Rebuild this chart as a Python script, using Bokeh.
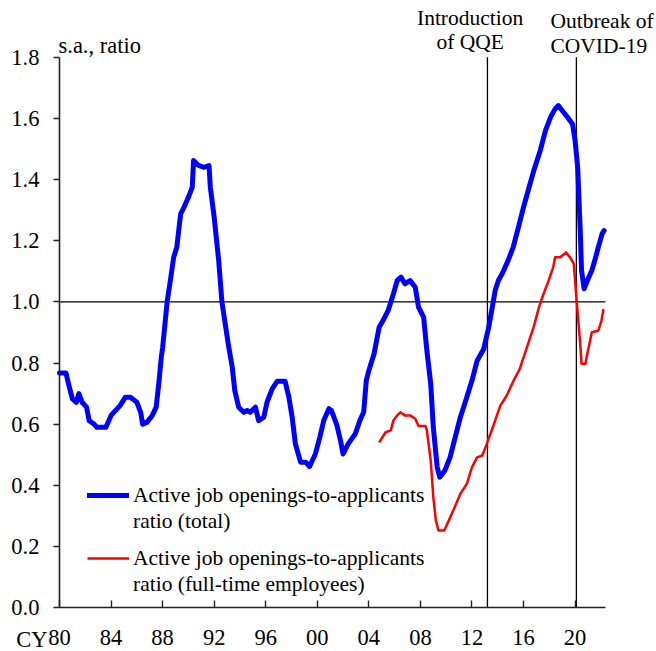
from bokeh.plotting import figure
from bokeh.models import Label, Legend, LegendItem, FixedTicker, NumeralTickFormatter
from bokeh.embed import file_html
from bokeh.resources import INLINE

FONT = "Liberation Serif"

# ---------------- data ----------------
x_ticks = [1980, 1984, 1988, 1992, 1996, 2000, 2004, 2008, 2012, 2016, 2020]
x_tick_labels = ["80", "84", "88", "92", "96", "00", "04", "08", "12", "16", "20"]
y_ticks = [0.0, 0.2, 0.4, 0.6, 0.8, 1.0, 1.2, 1.4, 1.6, 1.8]

total_years = [
    1980.0, 1980.5, 1980.7, 1981.0, 1981.3, 1981.5, 1981.75, 1982.1, 1982.3, 1982.7,
    1982.9, 1983.6, 1984.0, 1984.3, 1984.7, 1985.1, 1985.5, 1986.0, 1986.3, 1986.45,
    1986.8, 1987.2, 1987.5, 1987.7, 1987.9, 1988.0, 1988.35, 1988.6, 1988.86, 1989.1,
    1989.4, 1989.6, 1990.0, 1990.3, 1990.4, 1990.8, 1991.2, 1991.6, 1991.7, 1992.0,
    1992.35, 1992.6, 1993.1, 1993.4, 1993.6, 1993.9, 1994.3, 1994.55, 1994.8, 1995.2,
    1995.45, 1995.85, 1996.1, 1996.5, 1996.9, 1997.5, 1997.8, 1998.05, 1998.3, 1998.7,
    1999.1, 1999.4, 1999.85, 2000.2, 2000.5, 2000.9, 2001.1, 2001.5, 2001.8, 2002.0,
    2002.4, 2002.95, 2003.3, 2003.6, 2003.8, 2004.0, 2004.4, 2004.8, 2005.1, 2005.5,
    2005.9, 2006.2, 2006.5, 2006.8, 2007.2, 2007.6, 2007.85, 2008.25, 2008.5, 2008.8,
    2009.0, 2009.3, 2009.5, 2009.9, 2010.3, 2010.7, 2011.1, 2011.6, 2012.0, 2012.4,
    2012.9, 2013.3, 2013.8, 2014.05, 2014.4, 2014.8, 2015.2, 2015.6, 2016.0, 2016.4,
    2016.8, 2017.3, 2017.7, 2018.1, 2018.45, 2018.7, 2019.1, 2019.5, 2019.8, 2020.0,
    2020.2, 2020.4, 2020.5, 2020.7, 2020.95, 2021.3, 2021.6, 2021.8, 2022.1, 2022.25,
]
total_ratio = [
    0.768, 0.768, 0.732, 0.683, 0.672, 0.700, 0.672, 0.656, 0.612, 0.600,
    0.590, 0.590, 0.629, 0.643, 0.661, 0.688, 0.688, 0.672, 0.639, 0.600,
    0.607, 0.629, 0.656, 0.732, 0.820, 0.850, 1.000, 1.070, 1.146, 1.179,
    1.288, 1.304, 1.342, 1.375, 1.462, 1.446, 1.440, 1.446, 1.375, 1.277,
    1.135, 1.000, 0.860, 0.787, 0.710, 0.656, 0.639, 0.645, 0.639, 0.656,
    0.612, 0.623, 0.672, 0.716, 0.741, 0.741, 0.688, 0.623, 0.536, 0.476,
    0.476, 0.462, 0.503, 0.558, 0.612, 0.651, 0.645, 0.600, 0.547, 0.503,
    0.536, 0.569, 0.612, 0.640, 0.743, 0.776, 0.830, 0.917, 0.939, 0.972,
    1.026, 1.070, 1.081, 1.059, 1.070, 1.048, 0.983, 0.950, 0.841, 0.732,
    0.590, 0.460, 0.427, 0.449, 0.492, 0.558, 0.623, 0.688, 0.743, 0.808,
    0.845, 0.917, 1.037, 1.070, 1.097, 1.135, 1.179, 1.244, 1.310, 1.370,
    1.430, 1.495, 1.560, 1.604, 1.631, 1.642, 1.620, 1.599, 1.582, 1.528,
    1.440, 1.233, 1.103, 1.043, 1.070, 1.103, 1.146, 1.179, 1.223, 1.233,
]

fulltime_years = [
    2004.8, 2005.3, 2005.7, 2005.9, 2006.2, 2006.45, 2006.8, 2007.2, 2007.6, 2007.85,
    2008.4, 2008.5, 2008.8, 2009.0, 2009.2, 2009.4, 2009.85, 2010.2, 2010.55, 2011.1,
    2011.6, 2012.0, 2012.4, 2012.8, 2013.15, 2013.7, 2014.2, 2014.7, 2015.2, 2015.7,
    2016.25, 2016.8, 2017.2, 2017.55, 2017.95, 2018.3, 2018.45, 2018.85, 2019.3, 2019.6,
    2019.9, 2020.1, 2020.4, 2020.5, 2020.8, 2021.0, 2021.3, 2021.8, 2022.05, 2022.2,
]
fulltime_ratio = [
    0.541, 0.574, 0.580, 0.612, 0.629, 0.639, 0.629, 0.629, 0.618, 0.594,
    0.594, 0.580, 0.481, 0.362, 0.285, 0.253, 0.253, 0.285, 0.318, 0.373,
    0.405, 0.460, 0.492, 0.498, 0.536, 0.600, 0.661, 0.694, 0.740, 0.780,
    0.850, 0.920, 0.983, 1.026, 1.070, 1.113, 1.146, 1.146, 1.162, 1.146,
    1.125, 1.015, 0.863, 0.798, 0.798, 0.841, 0.901, 0.906, 0.939, 0.977,
]

qqe_year = 2013.2
covid_year = 2020.1
reference_level = 1.0
x_start, x_end = 1980, 2022.35
y_start, y_end = 0.0, 1.8

BLUE = "#0000FF"
RED = "#FF0000"

# ---------------- figure ----------------
# The frame covers the whole canvas; axes are pinned at x=1980 / y=0 so that
# the texts above and left of the axes are drawn inside the frame.
p = figure(
    width=656, height=651,
    x_range=(1975.4228, 2026.3157), y_range=(-0.14286, 1.98536),
    output_backend="svg", toolbar_location=None,
    min_border_left=0, min_border_right=0, min_border_top=0, min_border_bottom=0,
)
p.outline_line_color = None
p.xgrid.visible = False
p.ygrid.visible = False
p.background_fill_color = "white"
p.border_fill_color = "white"

# axes
p.xaxis.fixed_location = y_start
p.xaxis.bounds = (x_start, x_end)
p.xaxis.ticker = FixedTicker(ticks=x_ticks)
p.xaxis.major_label_overrides = {t: l for t, l in zip(x_ticks, x_tick_labels)}
p.xaxis.major_tick_in = 7
p.xaxis.major_tick_out = 0
p.xaxis.minor_tick_line_color = None
p.xaxis.major_label_standoff = 22
p.yaxis.fixed_location = x_start
p.yaxis.bounds = (y_start, y_end)
p.yaxis.ticker = FixedTicker(ticks=y_ticks)
p.yaxis.formatter = NumeralTickFormatter(format="0.0")
p.yaxis.major_tick_in = 0
p.yaxis.major_tick_out = 6
p.yaxis.minor_tick_line_color = None
p.yaxis.major_label_standoff = 14
for ax in (p.xaxis[0], p.yaxis[0]):
    ax.axis_line_color = "#222222"
    ax.axis_line_width = 1.6
    ax.major_tick_line_color = "#222222"
    ax.major_tick_line_width = 1.4
    ax.major_label_text_font = FONT
    ax.major_label_text_font_size = "22.5px"
    ax.major_label_text_color = "black"

# reference lines
p.segment(x0=[x_start], y0=[reference_level], x1=[x_end], y1=[reference_level],
          line_color="black", line_width=1.3)
p.segment(x0=[qqe_year, covid_year], y0=[y_start, y_start],
          x1=[qqe_year, covid_year], y1=[y_end, y_end],
          line_color="black", line_width=1.3)

# series
r_total = p.line(total_years, total_ratio, line_color=BLUE, line_width=5,
                 line_join="round", line_cap="round")
r_full = p.line(fulltime_years, fulltime_ratio, line_color=RED, line_width=2.5,
                line_join="round")
blank1 = p.line(x=[], y=[], line_alpha=0)
blank2 = p.line(x=[], y=[], line_alpha=0)


def make_legend(items, loc):
    lg = Legend(items=items, location=loc, orientation="vertical")
    lg.glyph_width = 42
    lg.glyph_height = 26
    lg.label_height = 26
    lg.label_standoff = 4
    lg.spacing = 0
    lg.padding = 0
    lg.margin = 0
    lg.border_line_color = None
    lg.background_fill_alpha = 0
    lg.label_text_font = FONT
    lg.label_text_font_size = "21.5px"
    lg.label_text_color = "black"
    return lg


p.add_layout(make_legend([
    LegendItem(label="Active job openings-to-applicants", renderers=[r_total]),
    LegendItem(label="ratio (total)", renderers=[blank1]),
], (87, 117)))
p.add_layout(make_legend([
    LegendItem(label="Active job openings-to-applicants", renderers=[r_full]),
    LegendItem(label="ratio (full-time employees)", renderers=[blank2]),
], (87, 54)))


# text annotations
def add_label(x, y, text, align, size="21.5px", baseline="middle", x_offset=0):
    p.add_layout(Label(x=x, y=y, text=text, text_align=align, text_baseline=baseline,
                       text_font=FONT, text_font_size=size, text_color="black",
                       x_offset=x_offset))


add_label(x_start, 1.8382, "s.a., ratio", "left", size="22.5px", x_offset=-1)
add_label(x_start, -0.1025, "CY", "right", size="22.5px", x_offset=-12)
add_label(qqe_year - 1.344, 1.9288, "Introduction", "center")
add_label(qqe_year - 1.344, 1.849, "of QQE", "center")
add_label(covid_year - 2.016, 1.9177, "Outbreak of", "left")
add_label(covid_year - 2.016, 1.835, "COVID-19", "left")

open("out.html", "w").write(file_html(p, INLINE))
